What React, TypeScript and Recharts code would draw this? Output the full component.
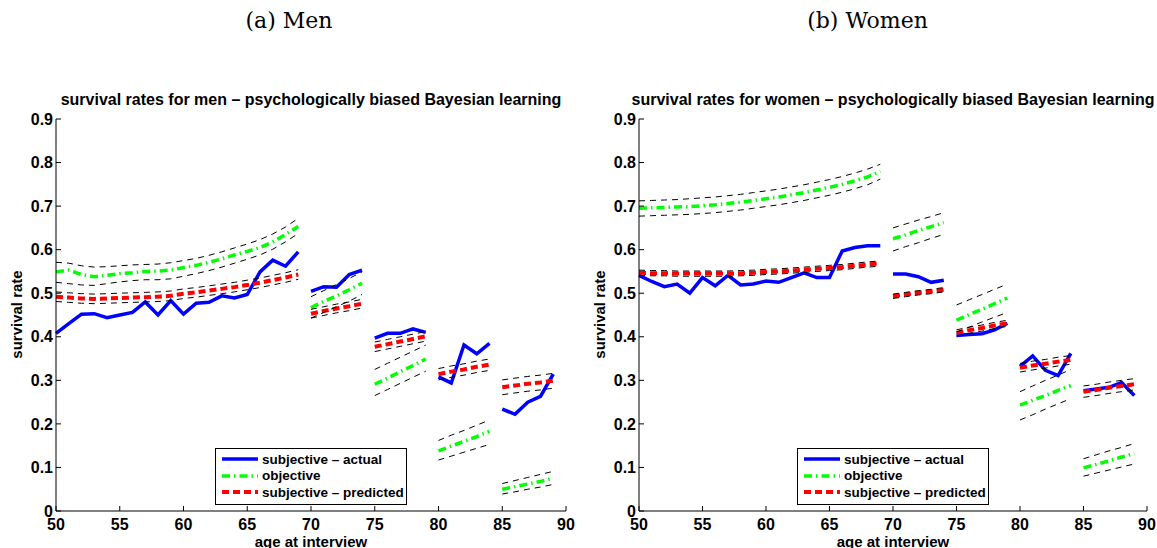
import React from 'react';
import { LineChart, Line, XAxis, YAxis, Legend } from 'recharts';

// ages 50..89, interview groups break at 70/75/80/85
const ages = [
  50, 51, 52, 53, 54, 55, 56, 57, 58, 59, 60, 61, 62, 63, 64, 65, 66, 67, 68, 69,
  70, 71, 72, 73, 74, 75, 76, 77, 78, 79, 80, 81, 82, 83, 84, 85, 86, 87, 88, 89,
];
const segmentStarts = [70, 75, 80, 85];
const xTicks = [50, 55, 60, 65, 70, 75, 80, 85, 90];
const yTicks = [0, 0.1, 0.2, 0.3, 0.4, 0.5, 0.6, 0.7, 0.8, 0.9];

// men
const menActual = [
  0.408, 0.43, 0.452, 0.453, 0.444, 0.45, 0.456, 0.48, 0.45, 0.483, 0.452, 0.477, 0.479, 0.494, 0.489, 0.497, 0.549, 0.576, 0.562, 0.595,
  0.504, 0.515, 0.514, 0.543, 0.553,
  0.397, 0.408, 0.408, 0.418, 0.41,
  0.308, 0.294, 0.381, 0.361, 0.385,
  0.234, 0.222, 0.25, 0.263, 0.314,
];
const menObjective = [
  0.549, 0.553, 0.543, 0.538, 0.541, 0.545, 0.547, 0.55, 0.551, 0.553, 0.559, 0.564, 0.571, 0.579, 0.588, 0.596, 0.605, 0.618, 0.635, 0.653,
  0.467, 0.481, 0.494, 0.508, 0.523,
  0.291, 0.305, 0.32, 0.334, 0.349,
  0.138, 0.149, 0.16, 0.171, 0.183,
  0.05, 0.056, 0.062, 0.068, 0.075,
];
const menObjHi = [
  0.571, 0.569, 0.563, 0.56, 0.561, 0.563, 0.565, 0.566, 0.567, 0.57, 0.575, 0.58, 0.587, 0.595, 0.604, 0.613, 0.623, 0.636, 0.652, 0.672,
  0.492, 0.506, 0.52, 0.534, 0.549,
  0.325, 0.339, 0.353, 0.367, 0.381,
  0.162, 0.174, 0.185, 0.197, 0.209,
  0.063, 0.07, 0.077, 0.084, 0.091,
];
const menObjLo = [
  0.525, 0.522, 0.519, 0.518, 0.522, 0.526, 0.529, 0.531, 0.531, 0.533, 0.539, 0.545, 0.552, 0.56, 0.569, 0.578, 0.588, 0.601, 0.618, 0.637,
  0.443, 0.456, 0.469, 0.482, 0.497,
  0.265, 0.279, 0.293, 0.307, 0.321,
  0.117, 0.126, 0.135, 0.144, 0.153,
  0.039, 0.044, 0.05, 0.055, 0.061,
];
const menPredicted = [
  0.492, 0.49, 0.488, 0.487, 0.488, 0.489, 0.49, 0.491, 0.492, 0.494, 0.499, 0.502, 0.506, 0.51, 0.514, 0.519, 0.524, 0.53, 0.536, 0.543,
  0.453, 0.459, 0.465, 0.47, 0.476,
  0.377, 0.383, 0.389, 0.395, 0.401,
  0.314, 0.32, 0.325, 0.331, 0.336,
  0.284, 0.288, 0.292, 0.295, 0.299,
];
const menPredHi = [
  0.503, 0.501, 0.499, 0.498, 0.499, 0.5, 0.501, 0.502, 0.503, 0.505, 0.51, 0.513, 0.517, 0.521, 0.525, 0.53, 0.535, 0.541, 0.547, 0.554,
  0.463, 0.469, 0.475, 0.48, 0.486,
  0.388, 0.394, 0.4, 0.406, 0.412,
  0.327, 0.333, 0.338, 0.344, 0.349,
  0.301, 0.305, 0.309, 0.312, 0.316,
];
const menPredLo = [
  0.481, 0.479, 0.477, 0.476, 0.477, 0.478, 0.479, 0.48, 0.481, 0.483, 0.488, 0.491, 0.495, 0.499, 0.503, 0.508, 0.513, 0.519, 0.525, 0.532,
  0.443, 0.449, 0.455, 0.46, 0.466,
  0.366, 0.372, 0.378, 0.384, 0.39,
  0.301, 0.307, 0.312, 0.318, 0.323,
  0.267, 0.271, 0.275, 0.278, 0.282,
];

// women
const womenActual = [
  0.541, 0.527, 0.515, 0.521, 0.5, 0.536, 0.517, 0.541, 0.519, 0.521, 0.528, 0.525, 0.536, 0.547, 0.536, 0.536, 0.597, 0.605, 0.609, 0.609,
  0.544, 0.544, 0.538, 0.525, 0.53,
  0.403, 0.405, 0.407, 0.416, 0.431,
  0.332, 0.356, 0.323, 0.311, 0.362,
  0.276, 0.28, 0.284, 0.295, 0.265,
];
const womenObjective = [
  0.695, 0.696, 0.697, 0.698, 0.699, 0.701, 0.703, 0.706, 0.709, 0.713, 0.717, 0.721, 0.726, 0.731, 0.737, 0.743, 0.75, 0.758, 0.767, 0.78,
  0.625, 0.634, 0.644, 0.653, 0.662,
  0.438, 0.451, 0.463, 0.476, 0.489,
  0.243, 0.254, 0.265, 0.277, 0.288,
  0.099, 0.107, 0.115, 0.124, 0.132,
];
const womenObjHi = [
  0.712, 0.713, 0.714, 0.715, 0.717, 0.719, 0.721, 0.724, 0.727, 0.731, 0.735, 0.739, 0.744, 0.749, 0.755, 0.761, 0.768, 0.776, 0.785, 0.796,
  0.65, 0.659, 0.668, 0.676, 0.685,
  0.473, 0.485, 0.497, 0.509, 0.521,
  0.274, 0.287, 0.3, 0.312, 0.325,
  0.12, 0.129, 0.138, 0.146, 0.155,
];
const womenObjLo = [
  0.677, 0.678, 0.679, 0.68, 0.681, 0.683, 0.685, 0.688, 0.691, 0.695, 0.699, 0.703, 0.708, 0.713, 0.719, 0.725, 0.732, 0.74, 0.749, 0.762,
  0.597, 0.607, 0.616, 0.626, 0.635,
  0.411, 0.422, 0.434, 0.445, 0.456,
  0.209, 0.221, 0.234, 0.246, 0.258,
  0.08, 0.087, 0.094, 0.101, 0.108,
];
const womenPredicted = [
  0.547, 0.546, 0.546, 0.545, 0.545, 0.545, 0.545, 0.545, 0.546, 0.547, 0.549, 0.55, 0.552, 0.554, 0.556, 0.558, 0.56, 0.563, 0.566, 0.568,
  0.493, 0.497, 0.501, 0.504, 0.508,
  0.409, 0.415, 0.42, 0.426, 0.431,
  0.329, 0.334, 0.338, 0.343, 0.347,
  0.274, 0.278, 0.283, 0.287, 0.291,
];
const womenPredHi = [
  0.553, 0.552, 0.552, 0.551, 0.551, 0.551, 0.551, 0.551, 0.552, 0.553, 0.555, 0.556, 0.558, 0.56, 0.562, 0.564, 0.566, 0.569, 0.572, 0.574,
  0.498, 0.502, 0.506, 0.509, 0.513,
  0.416, 0.422, 0.427, 0.433, 0.438,
  0.339, 0.344, 0.348, 0.353, 0.357,
  0.287, 0.291, 0.296, 0.3, 0.304,
];
const womenPredLo = [
  0.541, 0.54, 0.54, 0.539, 0.539, 0.539, 0.539, 0.539, 0.54, 0.541, 0.543, 0.544, 0.546, 0.548, 0.55, 0.552, 0.554, 0.557, 0.56, 0.562,
  0.488, 0.492, 0.496, 0.499, 0.503,
  0.402, 0.408, 0.413, 0.419, 0.424,
  0.319, 0.324, 0.328, 0.333, 0.337,
  0.261, 0.265, 0.27, 0.274, 0.278,
];

const FONT = '"Liberation Sans", Arial, sans-serif';
const keys = ['actual', 'objective', 'predicted', 'objHi', 'objLo', 'predHi', 'predLo'];

const legendItems = [
  { label: 'subjective \u2013 actual', color: '#0000ff', dash: undefined, width: 3.5 },
  { label: 'objective', color: '#00ff00', dash: '8 4 1.5 4', width: 3.5 },
  { label: 'subjective \u2013 predicted', color: '#ff0000', dash: '7 4', width: 4 },
];

function buildRows(series: number[][]) {
  const rows: any[] = [];
  ages.forEach((age, i) => {
    if (segmentStarts.includes(age)) {
      const gap: any = { age: age - 0.5 };
      keys.forEach((k) => (gap[k] = null));
      rows.push(gap);
    }
    const row: any = { age };
    keys.forEach((k, j) => (row[k] = series[j][i]));
    rows.push(row);
  });
  return rows;
}

const renderLegend = () => (
  <div style={{ border: '1px solid #000', background: '#fff', padding: '2px 0 3px 4px', width: 186, fontFamily: FONT, boxSizing: 'content-box' }}>
    {legendItems.map((it) => (
      <div key={it.label} style={{ display: 'flex', alignItems: 'center', height: 16.5, whiteSpace: 'nowrap' }}>
        <svg width={42} height={10} style={{ flex: 'none' }}>
          <line x1={2} y1={5} x2={38} y2={5} stroke={it.color} strokeWidth={it.width} strokeDasharray={it.dash} />
        </svg>
        <span style={{ fontSize: 13.5, fontWeight: 'bold', color: '#000' }}>{it.label}</span>
      </div>
    ))}
  </div>
);

type PanelProps = {
  left: number;
  width: number;
  marginLeft: number;
  marginRight: number;
  title: string;
  caption: string;
  series: number[][];
  legendLeft: number;
};

function Panel({ left, width, marginLeft, marginRight, title, caption, series, legendLeft }: PanelProps) {
  const data = buildRows(series);
  const plotLeft = marginLeft + 50;
  const plotRight = width - marginRight;
  const center = (plotLeft + plotRight) / 2;
  const tickStyle = { fill: '#000', fontSize: 16, fontWeight: 'bold', fontFamily: FONT };
  return (
    <div style={{ position: 'absolute', left, top: 0, width, height: 548 }}>
      <div style={{ position: 'absolute', left: 0, width, top: 8, textAlign: 'center', fontFamily: '"DejaVu Serif", serif', fontSize: 22 }}>
        {caption}
      </div>
      <div style={{ position: 'absolute', left: center - 300, width: 600, top: 91, textAlign: 'center', fontFamily: FONT, fontSize: 16, fontWeight: 'bold', whiteSpace: 'nowrap' }}>
        {title}
      </div>
      <div style={{ position: 'absolute', left: plotLeft - 40 - 100, top: 315 - 9, width: 200, textAlign: 'center', transform: 'rotate(-90deg)', fontFamily: FONT, fontSize: 15, fontWeight: 'bold' }}>
        survival rate
      </div>
      <div style={{ position: 'absolute', left: center - 100, width: 200, top: 534, lineHeight: '16px', textAlign: 'center', fontFamily: FONT, fontSize: 15, fontWeight: 'bold' }}>
        age at interview
      </div>
      <LineChart width={width} height={548} data={data} margin={{ top: 119, right: marginRight, bottom: 7, left: marginLeft }}>
        <XAxis
          dataKey="age"
          type="number"
          domain={[50, 90]}
          ticks={xTicks}
          interval={0}
          height={30}
          tickSize={-5}
          tickMargin={13}
          axisLine={{ stroke: '#000' }}
          tickLine={{ stroke: '#000' }}
          tick={tickStyle}
        />
        <YAxis
          type="number"
          domain={[0, 0.9]}
          ticks={yTicks}
          interval={0}
          width={50}
          tickSize={-5}
          tickMargin={8}
          tickFormatter={(v: number) => (v === 0 ? '0' : v.toFixed(1))}
          axisLine={{ stroke: '#000' }}
          tickLine={{ stroke: '#000' }}
          tick={tickStyle}
        />
        <Legend
          layout="vertical"
          align="center"
          verticalAlign="middle"
          content={renderLegend}
          wrapperStyle={{ left: legendLeft, top: 448, width: 192 }}
        />
        <Line dataKey="actual" stroke="#0000ff" strokeWidth={3.5} dot={false} activeDot={false} isAnimationActive={false} />
        <Line dataKey="objective" stroke="#00ff00" strokeWidth={3.5} strokeDasharray="8 4 1.5 4" dot={false} activeDot={false} isAnimationActive={false} />
        <Line dataKey="predicted" stroke="#ff0000" strokeWidth={4} strokeDasharray="7 4" dot={false} activeDot={false} isAnimationActive={false} />
        <Line dataKey="objHi" stroke="#000" strokeWidth={1} strokeDasharray="6 5" dot={false} activeDot={false} isAnimationActive={false} />
        <Line dataKey="objLo" stroke="#000" strokeWidth={1} strokeDasharray="6 5" dot={false} activeDot={false} isAnimationActive={false} />
        <Line dataKey="predHi" stroke="#000" strokeWidth={1} strokeDasharray="6 5" dot={false} activeDot={false} isAnimationActive={false} />
        <Line dataKey="predLo" stroke="#000" strokeWidth={1} strokeDasharray="6 5" dot={false} activeDot={false} isAnimationActive={false} />
      </LineChart>
    </div>
  );
}

export default function App() {
  return (
    <div style={{ position: 'absolute', left: 0, top: 0, width: 1157, height: 548, background: '#fff', overflow: 'hidden' }}>
      <Panel
        left={0}
        width={578}
        marginLeft={6}
        marginRight={12}
        title={'survival rates for men \u2013 psychologically biased Bayesian learning'}
        caption="(a) Men"
        series={[menActual, menObjective, menPredicted, menObjHi, menObjLo, menPredHi, menPredLo]}
        legendLeft={215}
      />
      <Panel
        left={578}
        width={579}
        marginLeft={11}
        marginRight={10}
        title={'survival rates for women \u2013 psychologically biased Bayesian learning'}
        caption="(b) Women"
        series={[womenActual, womenObjective, womenPredicted, womenObjHi, womenObjLo, womenPredHi, womenPredLo]}
        legendLeft={219}
      />
    </div>
  );
}
